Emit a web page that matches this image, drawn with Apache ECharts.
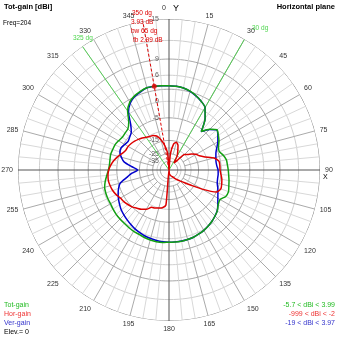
<!DOCTYPE html>
<html><head><meta charset="utf-8">
<script src="https://cdn.jsdelivr.net/npm/echarts@6/dist/echarts.min.js"></script>
<style>html,body{margin:0;padding:0;background:#fff}#c{width:339px;height:339px}</style>
</head><body><div id="c"></div>
<script>
// azimuth in degrees, clockwise from Y (top), 5 degree steps
const angles = [0,5,10,15,20,25,30,35,40,45,50,55,60,65,70,75,80,85,90,95,100,105,110,115,120,125,130,135,140,145,150,155,160,165,170,175,
  180,185,190,195,200,205,210,215,220,225,230,235,240,245,250,255,260,265,270,275,280,285,290,295,300,305,310,315,320,325,330,335,340,345,350,355];
const totGain = [3.8,3.75,3.57,3.2,2.6,1.85,0.9,-1.6,-5.7,-3.2,-1.7,-2.4,-3.2,-4.2,-4.5,-3.6,-3.0,-2.9,-2.7,-2.5,-2.2,-1.9,-1.5,-1.7,-2.8,-2.45,-1.55,-1.0,-0.5,-0.1,0.25,0.5,0.75,0.85,0.94,0.95,
  0.9,1.05,1.07,0.96,0.82,0.6,0.54,0.39,0.24,0.17,0.07,-0.12,-0.32,-0.32,-0.38,-0.56,-1.1,-1.75,-2.3,-2.55,-2.5,-2.35,-2.5,-2.6,-3.0,-3.4,-3.3,-3.05,-1.7,0.9,2.44,3.23,3.68,3.99,3.93,3.86];
const horGain = [-999,-25,-17,-15.5,-17,-21,-25,-35,-30,-20,-18.5,-16,-14,-12.8,-10.5,-7,-5.5,-5.4,-5.4,-5.0,-4.5,-4.2,-4.0,-5,-10.5,-17,-22,-26,-29,-32,-36,-38,-40,-42,-45,-50,
  -999,-12,-10.5,-10,-9.5,-9.2,-7.5,-6.5,-5.8,-5.0,-4.5,-4.0,-3.7,-3.0,-2.5,-2.2,-2.0,-2.1,-2.4,-3.0,-3.8,-4.8,-6,-6.7,-6.8,-7.2,-7.7,-8.3,-9,-9.7,-10.3,-10.6,-11.5,-14,-17.8,-24];
const verGain = [3.8,3.75,3.55,3.15,2.55,1.85,0.9,-1.6,-5.7,-3.3,-1.8,-2.6,-3.6,-4.8,-5.8,-6.3,-6.6,-6.5,-6.1,-6.0,-6.0,-5.8,-5.1,-4.4,-3.6,-2.6,-1.6,-1.0,-0.5,-0.1,0.25,0.5,0.75,0.85,0.9,0.9,
  0.9,0.85,0.75,0.6,0.4,0.1,-0.2,-0.6,-1.0,-1.4,-1.8,-2.4,-3.0,-3.7,-4.5,-5.6,-8.5,-11,-14,-11,-7.5,-6.0,-5.0,-4.8,-5.4,-5.8,-5.3,-4.6,-2.6,0.5,2.2,3.05,3.55,3.97,3.9,3.85];
const ringDb = [15,12,9,6,3,0,-5,-10,-15,-20,-25,-30,-35];
const ringLabelDb = [15,9,6,0,-5,-15,-25,-35];
const markerAngle = 350, markerGain = 3.93;
const beamEdges = [325,30];

// log-style radial scale of the plot (outer ring = 15 dBi)
const TOP = 15, K1 = 0.0506, K2 = 0.000126;
function rad(db){ if(db <= -60) return 0; const x = db-TOP; return Math.exp(K1*x - K2*x*x); }

const GREEN = '#12a012', RED = '#dd0000', BLUE = '#0000cc';
const series = [];
ringDb.forEach((d,i)=>{
  const pts=[]; for(let a=0;a<=360;a+=2) pts.push([rad(d),a]);
  series.push({type:'line',coordinateSystem:'polar',data:pts,symbol:'none',silent:true,z:1,
    lineStyle:{color: i===0?'#777':(i%2===0?'#a8a8a8':'#cfcfcf'),width:1}});
});
for(let a=0;a<360;a+=5){
  const major = a%15===0, axis = a%90===0;
  const r0 = axis?0:(major?rad(-25):rad(-5));
  series.push({type:'line',coordinateSystem:'polar',data:[[r0,a],[1,a]],symbol:'none',silent:true,z:1,
    lineStyle:{color: axis?'#555':(major?'#aaa':'#d8d8d8'),width:1}});
}
function curve(vals,color){
  const d = angles.map((a,i)=>[rad(vals[i]),a]); d.push([rad(vals[0]),360]);
  return {type:'line',coordinateSystem:'polar',data:d,symbol:'none',smooth:0.2,z:5,silent:true,
    lineStyle:{color:color,width:1.5}};
}
series.push(curve(verGain,BLUE), curve(totGain,GREEN), curve(horGain,RED));
beamEdges.forEach(a=>series.push({type:'line',coordinateSystem:'polar',data:[[0,a],[1,a]],symbol:'none',silent:true,z:3,
  lineStyle:{color:'#5c5',width:1}}));
series.push({type:'line',coordinateSystem:'polar',data:[[0,markerAngle],[1,markerAngle]],symbol:'none',silent:true,z:6,
  lineStyle:{color:RED,width:1,type:[3,2]}});
series.push({type:'scatter',coordinateSystem:'polar',data:[[rad(markerGain),markerAngle]],symbolSize:5,z:7,
  itemStyle:{color:RED}});
series.push({type:'scatter',coordinateSystem:'polar',symbolSize:1,z:8,itemStyle:{color:'rgba(0,0,0,0)'},
  data:beamEdges.map(a=>({value:[1,a],label:{formatter:a+' dg',position: a>180?[-9,-8]:[8,-11]}})),
  label:{show:true,align:'left',verticalAlign:'middle',fontSize:6.5,color:'#2c2',fontFamily:'Liberation Sans'}});
series.push({type:'scatter',coordinateSystem:'polar',symbolSize:0,z:2,
  data:ringLabelDb.map(d=>({value:[rad(d),0],label:{formatter:String(d)}})),
  label:{show:true,position:'left',distance:10,fontSize:7,color:'#333',fontFamily:'Liberation Sans'}});

const chart = echarts.init(document.getElementById('c'),null,{renderer:'canvas'});
chart.setOption({
  animation:false,
  polar:{center:[169,170],radius:151},
  angleAxis:{type:'value',min:0,max:360,interval:15,startAngle:90,clockwise:true,
    axisLine:{show:false},axisTick:{show:false},splitLine:{show:false},
    axisLabel:{margin:5,fontSize:7,color:'#333',fontFamily:'Liberation Sans',formatter:v=>(v===360||v===0)?'':String(v)}},
  radiusAxis:{type:'value',min:0,max:1,show:false,axisLine:{show:false},axisLabel:{show:false},splitLine:{show:false},axisTick:{show:false}},
  series:series,
  graphic:[
    {type:'text',left:4,top:3,style:{text:'Tot-gain [dBi]',font:'bold 7.5px Liberation Sans',fill:'#000'}},
    {type:'text',left:3,top:20,style:{text:'Freq=204',font:'6.5px Liberation Sans',fill:'#000'}},
    {type:'text',right:4,top:3,style:{text:'Horizontal plane',font:'bold 7.5px Liberation Sans',fill:'#000'}},
    {type:'text',left:162,top:5,style:{text:'0',font:'7px Liberation Sans',fill:'#333'}},
    {type:'text',left:173,top:4,style:{text:'Y',font:'9px Liberation Sans',fill:'#000'}},
    {type:'text',left:323,top:174,style:{text:'X',font:'7px Liberation Sans',fill:'#000'}},
    {type:'text',left:132,top:10,z:20,style:{text:'350 dg',font:'6.5px Liberation Sans',fill:RED}},
    {type:'text',left:131,top:19,z:20,style:{text:'3.93 dB',font:'6.5px Liberation Sans',fill:RED}},
    {type:'text',left:131,top:28,z:20,style:{text:'bw 65 dg',font:'6.5px Liberation Sans',fill:RED}},
    {type:'text',left:133,top:37,z:20,style:{text:'fb 2.99 dB',font:'6.5px Liberation Sans',fill:RED}},
    {type:'text',left:4,top:302,style:{text:'Tot-gain',font:'7px Liberation Sans',fill:'#2b2'}},
    {type:'text',left:4,top:311,style:{text:'Hor-gain',font:'7px Liberation Sans',fill:'#e33'}},
    {type:'text',left:4,top:320,style:{text:'Ver-gain',font:'7px Liberation Sans',fill:'#33c'}},
    {type:'text',left:4,top:329,style:{text:'Elev.= 0',font:'7px Liberation Sans',fill:'#000'}},
    {type:'text',right:4,top:302,style:{text:'-5.7 < dBi < 3.99',font:'7px Liberation Sans',fill:'#2b2'}},
    {type:'text',right:4,top:311,style:{text:'-999 < dBi < -2',font:'7px Liberation Sans',fill:'#e33'}},
    {type:'text',right:4,top:320,style:{text:'-19 < dBi < 3.97',font:'7px Liberation Sans',fill:'#33c'}}
  ]
});
</script></body></html>
